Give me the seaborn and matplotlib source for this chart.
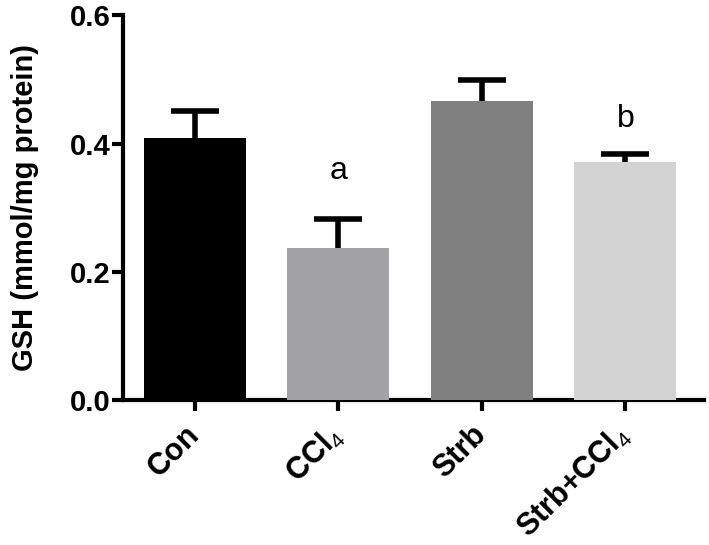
import matplotlib
matplotlib.use("Agg")
import numpy as np
import pandas as pd
import matplotlib.pyplot as plt
import seaborn as sns

# group means and SEM
groups = ["Con", "CCl4", "Strb", "Strb+CCl4"]
tick_labels = ["Con", r"CCl$\mathrm{_4}$", "Strb", r"Strb+CCl$\mathrm{_4}$"]
gsh_mean = [0.409, 0.237, 0.467, 0.371]
gsh_sem = [0.041, 0.046, 0.032, 0.012]
bar_colors = ["#000000", "#a2a2a6", "#808080", "#d3d3d3"]

sns.set_style("ticks")
plt.rcParams["font.family"] = ["Liberation Sans", "DejaVu Sans"]
plt.rcParams["mathtext.fontset"] = "custom"
plt.rcParams["mathtext.rm"] = "Liberation Sans:style=normal:weight=normal"
plt.rcParams["text.color"] = "black"
plt.rcParams["axes.labelcolor"] = "black"
plt.rcParams["xtick.color"] = "black"
plt.rcParams["ytick.color"] = "black"
plt.rcParams["axes.edgecolor"] = "black"

df = pd.DataFrame({"group": groups, "gsh": gsh_mean, "sem": gsh_sem})

fig = plt.figure(figsize=(7.09, 5.45), dpi=100)
ax = fig.add_axes([0.1735, 0.266, 0.82, 0.706])

sns.barplot(data=df, x="group", y="gsh", hue="group", palette=bar_colors,
            order=groups, width=0.71, legend=False, ax=ax, zorder=3)
for p in ax.patches:
    p.set_edgecolor("none")

# error bars behind the bars so only the upper half shows
ax.errorbar(np.arange(len(groups)), df["gsh"], yerr=df["sem"], fmt="none",
            ecolor="black", elinewidth=4, capsize=17, capthick=4, zorder=2)

# significance letters
ax.text(1, 0.345, "a", ha="center", va="baseline", fontsize=23)
ax.text(3, 0.425, "b", ha="center", va="baseline", fontsize=23)

ax.set_ylim(0, 0.6)
ax.set_xlim(-0.5, 3.55)
ax.set_yticks([0.0, 0.2, 0.4, 0.6])
ax.set_yticklabels(["0.0", "0.2", "0.4", "0.6"], fontsize=21, fontweight="bold")
ax.set_xticks(range(len(groups)))
ax.set_xticklabels(tick_labels, rotation=45, ha="right", va="center",
                   rotation_mode="anchor", fontsize=22, fontweight="bold")
ax.set_xlabel("")
ax.set_ylabel("GSH (mmol/mg protein)", fontsize=21, fontweight="bold", labelpad=22)

for s in ["left", "bottom"]:
    ax.spines[s].set_linewidth(3)
sns.despine(ax=ax)
ax.tick_params(axis="both", width=3, length=8, color="black")
ax.tick_params(axis="y", pad=1)
ax.tick_params(axis="x", pad=14)

fig.savefig("out.png", dpi=100)
